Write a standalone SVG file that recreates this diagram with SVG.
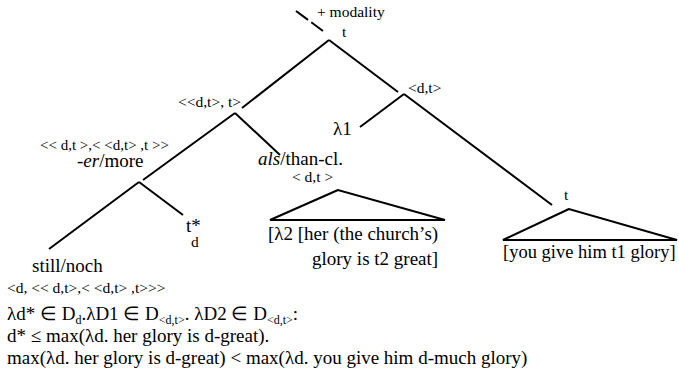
<svg xmlns="http://www.w3.org/2000/svg" width="679" height="380" viewBox="0 0 679 380" font-family="'Liberation Serif', 'Times New Roman', Tinos, serif">
<style>
.ln{stroke:#000;stroke-width:2;fill:none}
</style>
<rect width="679" height="380" fill="#fff"/>
<g id="connectors" class="ln">
<line stroke-dasharray="15 4" x1="296" y1="11" x2="323" y2="31"/>
<line x1="329" y1="40" x2="242" y2="108"/>
<line x1="329" y1="40" x2="398" y2="92"/>
<line x1="404" y1="94" x2="360" y2="127"/>
<line x1="404" y1="94" x2="552" y2="205"/>
<line x1="235" y1="113" x2="143" y2="180"/>
<line x1="235" y1="113" x2="280" y2="155"/>
<line x1="139" y1="182" x2="49" y2="249"/>
<line x1="139" y1="182" x2="183" y2="215"/>
</g>
<g id="root">
<text style="font-family:'Liberation Serif','Times New Roman',serif !important;font-size:15.5px" x="317" y="17">+ modality</text>
<text style="font-family:'Liberation Serif','Times New Roman',serif !important;font-size:15.5px" x="342" y="37">t</text>
</g>
<g id="n-ddt-t">
<text style="font-family:'Liberation Serif','Times New Roman',serif !important;font-size:15.5px" x="178" y="107">&lt;&lt;d,t&gt;, t&gt;</text>
</g>
<g id="n-dt-right">
<text style="font-family:'Liberation Serif','Times New Roman',serif !important;font-size:15.5px" x="408" y="93">&lt;d,t&gt;</text>
</g>
<g id="n-lambda1">
<text style="font-family:'Liberation Serif','Times New Roman',serif !important;font-size:19px" x="333" y="135">λ1</text>
</g>
<g id="n-er">
<text style="font-family:'Liberation Serif','Times New Roman',serif !important;font-size:15px" x="40" y="150">&lt;&lt; d,t &gt;,&lt; &lt;d,t&gt; ,t &gt;&gt;</text>
<text style="font-family:'Liberation Serif','Times New Roman',serif !important;font-size:19px" x="77" y="167">-<tspan font-style="italic">er</tspan>/more</text>
</g>
<g id="n-als">
<text style="font-family:'Liberation Serif','Times New Roman',serif !important;font-size:19px" x="258" y="165"><tspan font-style="italic">als</tspan>/than-cl.</text>
<text style="font-family:'Liberation Serif','Times New Roman',serif !important;font-size:15.5px" x="292" y="182">&lt; d,t &gt;</text>
</g>
<g id="n-als-tri">
<polygon class="ln" points="338,190 270,220 445,220"/>
<text style="font-family:'Liberation Serif','Times New Roman',serif !important;font-size:19px" x="268" y="240">[λ2 [her (the church’s)</text>
<text style="font-family:'Liberation Serif','Times New Roman',serif !important;font-size:19px" x="312" y="265">glory is t2 great]</text>
</g>
<g id="n-t-tri">
<text style="font-family:'Liberation Serif','Times New Roman',serif !important;font-size:15.5px" x="564" y="200">t</text>
<polygon class="ln" points="569,209 503,240 677,240"/>
<text style="font-family:'Liberation Serif','Times New Roman',serif !important;font-size:18.5px" x="503" y="258">[you give him t1 glory]</text>
</g>
<g id="n-tstar">
<text style="font-family:'Liberation Serif','Times New Roman',serif !important;font-size:19px" x="186" y="232">t*</text>
<text style="font-family:'Liberation Serif','Times New Roman',serif !important;font-size:15.5px" x="191" y="247">d</text>
</g>
<g id="n-still">
<text style="font-family:'Liberation Serif','Times New Roman',serif !important;font-size:19px" x="32" y="272">still/noch</text>
<text style="font-family:'Liberation Serif','Times New Roman',serif !important;font-size:15.5px" x="7" y="293">&lt;d, &lt;&lt; d,t&gt;,&lt; &lt;d,t&gt; ,t&gt;&gt;&gt;</text>
</g>
<g id="formula">
<text style="font-family:'Liberation Serif','Times New Roman',serif !important;font-size:19px" x="7" y="320">λd* ∈ D<tspan font-size="12" dy="4">d</tspan><tspan dy="-4">.λD1 ∈ D</tspan><tspan font-size="12" dy="4">&lt;d,t&gt;</tspan><tspan dy="-4">. λD2 ∈ D</tspan><tspan font-size="12" dy="4">&lt;d,t&gt;</tspan><tspan dy="-4">:</tspan></text>
<text style="font-family:'Liberation Serif','Times New Roman',serif !important;font-size:19px" x="7" y="342">d* ≤ max(λd. her glory is d-great).</text>
<text style="font-family:'Liberation Serif','Times New Roman',serif !important;font-size:19px" x="7" y="364">max(λd. her glory is d-great) &lt; max(λd. you give him d-much glory)</text>
</g>
</svg>
